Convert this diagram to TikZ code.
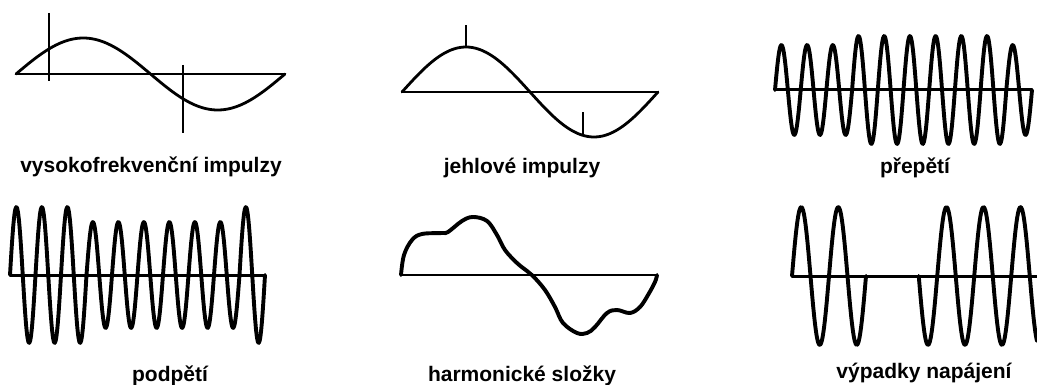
\documentclass[tikz,border=0pt]{standalone}
\usepackage{fontspec}
\setmainfont{Liberation Sans}
\usetikzlibrary{positioning}

\begin{document}
\begin{tikzpicture}[
  x=1pt, y=-1pt,
  lbl/.style={font=\bfseries\fontsize{21}{25}\selectfont, anchor=base, inner sep=0pt},
  thinwave/.style={line width=2.8pt, line join=round, line cap=round},
  thickwave/.style={line width=3.9pt, line join=round, line cap=round},
  axisline/.style={line width=2.8pt},
  spike/.style={line width=2.8pt}
]
\useasboundingbox (0,0) rectangle (1037,385);

% vysokofrekvencni impulzy
\draw[axisline] (16,74) -- (285,74);
\draw[thinwave] plot[domain=16:285, samples=120, smooth] (\x, {74-36*sin((\x-16)/269*360)});
\draw[spike] (49,13) -- (49,81);
\draw[spike] (183,65) -- (183,133);
\node[lbl] (hf) at (151,173) {vysokofrekvenční impulzy};

% jehlove impulzy
\draw[axisline] (402,92) -- (658,92);
\draw[thinwave] plot[domain=402:658, samples=120, smooth] (\x, {92-45*sin((\x-402)/256*360)});
\draw[spike] (466,47) -- (466,25);
\draw[spike] (583,135) -- (583,112);
\node[lbl] (jeh) at (522,174) {jehlové impulzy};

% prepeti
\draw[line width=3pt] (775,90) -- (1032,90);
\foreach \a [count=\i from 0] in {45,45,45,54,54,54,54,54,54,45}
  \draw[thickwave] plot[domain=0:25.7, samples=30, smooth] ({775+\i*25.7+\x}, {90-\a*sin(\x/25.7*360)});
\node[lbl] (pre) at (915,174) {přepětí};

% podpeti
\draw[line width=3pt] (10,275) -- (265,275);
\foreach \a [count=\i from 0] in {68,68,68,53,53,53,53,53,53,68}
  \draw[thickwave] plot[domain=0:25.5, samples=30, smooth] ({10+\i*25.5+\x}, {275-\a*sin(\x/25.5*360)});
\node[lbl] (pod) at (170,381) {podpětí};

% harmonicke slozky
\draw[line width=2.2pt] (401,275) -- (657,275);
\draw[thickwave] plot[smooth, tension=0.6] coordinates {
  (401,275) (404,255) (412,240) (422,234) (442,233) (448,232) (462,221) (473,217)
  (487,221) (497,235) (505,250) (517,263) (527,271) (533,276) (545,290) (555,307)
  (563,323) (577,333) (587,333) (595,327) (607,313) (617,310) (630,313) (640,307)
  (648,295) (655,282) (657,275)};
\node[lbl] (harm) at (522,381) {harmonické složky};

% vypadky napajeni
\draw[line width=3pt] (792,276) -- (1037,276);
\draw[thickwave] plot[domain=792:866, samples=80, smooth] (\x, {276-69*sin((\x-792)/37*360)});
\draw[thickwave] plot[domain=918.75:1037, samples=120, smooth] (\x, {276+69*sin((\x-918.75)/37*360)});
\node[lbl] (vyp) at (924,378) {výpadky napájení};
\end{tikzpicture}
\end{document}
